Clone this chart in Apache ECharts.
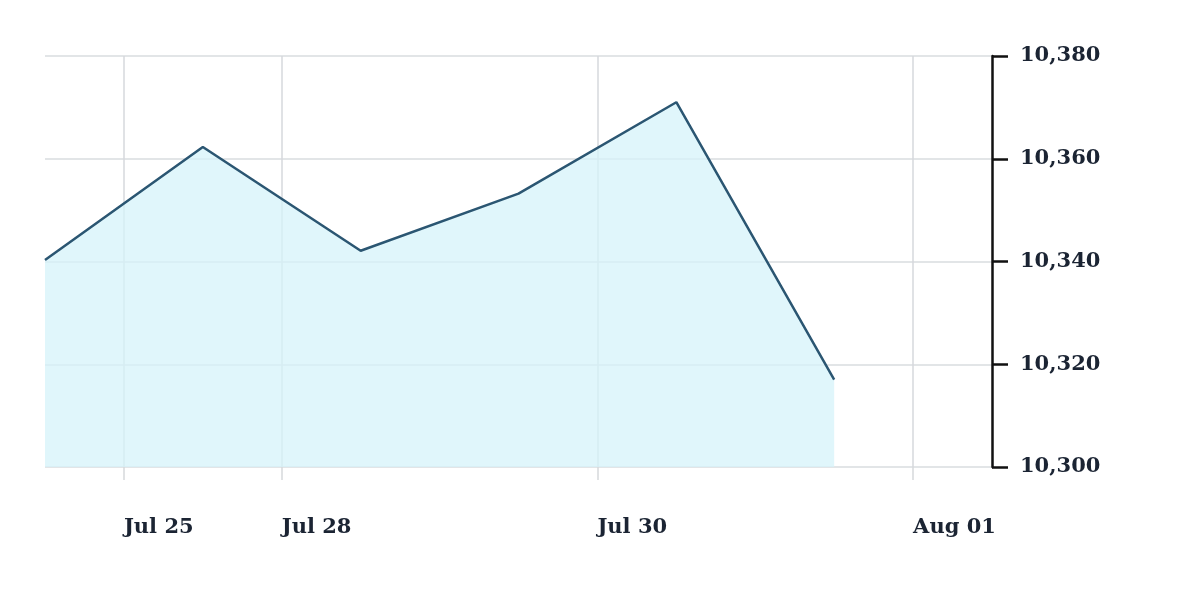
<!DOCTYPE html>
<html><head><meta charset="utf-8">
<script src="https://cdn.jsdelivr.net/npm/echarts@6/dist/echarts.min.js"></script>
<style>html,body{margin:0;padding:0;background:#fff}#c{width:1200px;height:612px}</style>
</head><body><div id="c"></div>
<script>
// data point index (trading step) and value
const steps = [0, 1, 2, 3, 4, 5];
const values = [10340.3, 10362.3, 10342.1, 10353.2, 10371.0, 10317.0];
// date tick positions (between trading steps) and labels
const dateTickPos = [0.5, 1.5, 3.5, 5.5];
const dateTickLabels = ['Jul 25', 'Jul 28', 'Jul 30', 'Aug 01'];
const yTicks = [10300, 10320, 10340, 10360, 10380];

const chart = echarts.init(document.getElementById('c'));
const font = '"DejaVu Serif", serif';
chart.setOption({
  animation: false,
  grid: { left: 45, right: 208, top: 56, bottom: 145 },
  xAxis: {
    type: 'value', min: 0, max: 6,
    axisLine: { show: false },
    axisTick: { show: true, customValues: dateTickPos, length: 13, lineStyle: { color: '#d6d9dc', width: 1.5 } },
    splitLine: { show: true, lineStyle: { color: '#d6d9dc', width: 1.5 } },
    axisLabel: {
      customValues: dateTickPos,
      formatter: v => { const i = dateTickPos.indexOf(v); return i >= 0 ? dateTickLabels[i] : ''; },
      align: 'left', margin: 50,
      fontFamily: font, fontWeight: 'bold', fontSize: 21, color: '#1b2433'
    }
  },
  yAxis: {
    type: 'value', position: 'right', min: 10300, max: 10380, interval: 20,
    axisLine: { show: true, onZero: false, lineStyle: { color: '#111', width: 2.5 } },
    axisTick: { show: true, length: 16, lineStyle: { color: '#111', width: 2.5 } },
    splitLine: { show: true, lineStyle: { color: '#d9dcdf', width: 1.5 } },
    axisLabel: {
      margin: 28,
      formatter: v => yTicks.includes(v) ? v.toLocaleString('en-US') : '',
      fontFamily: font, fontWeight: 'bold', fontSize: 21, color: '#1b2433'
    }
  },
  series: [{
    type: 'line',
    data: steps.map((s, i) => [s, values[i]]),
    symbol: 'none',
    lineStyle: { color: '#2b5672', width: 2.5 },
    areaStyle: { color: '#d6f3fa', origin: 'start', opacity: 0.75 }
  }]
});
</script></body></html>
